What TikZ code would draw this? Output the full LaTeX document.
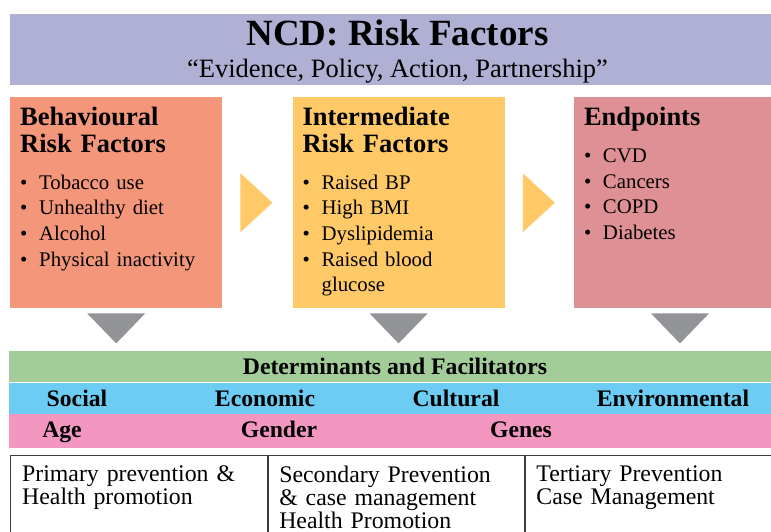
\documentclass[tikz,border=0pt]{standalone}
\usepackage{fontspec}
\setmainfont{Liberation Serif}
\usepackage{xcolor}
\usetikzlibrary{positioning}
\definecolor{bannerbg}{RGB}{176,176,212}
\definecolor{behavbg}{RGB}{244,150,122}
\definecolor{interbg}{RGB}{254,201,102}
\definecolor{endbg}{RGB}{223,144,148}
\definecolor{arrowgrey}{RGB}{146,148,151}
\definecolor{detgreen}{RGB}{162,205,152}
\definecolor{detblue}{RGB}{109,204,243}
\definecolor{detpink}{RGB}{243,151,192}
\definecolor{tableline}{RGB}{60,60,60}
\newcommand{\bitem}[1]{\makebox[19pt][l]{\textbullet}#1}

\begin{document}
\begin{tikzpicture}[x=1pt, y=-1pt,
    panel/.style={rectangle, anchor=north west, inner sep=0pt, minimum width=212pt, minimum height=211pt},
    heading/.style={anchor=north west, inner sep=0pt, align=left, text width=200pt, font=\fontsize{26.5}{26.7}\selectfont\bfseries},
    bullets/.style={anchor=north west, inner sep=0pt, align=left, text width=195pt, font=\fontsize{20.8}{25.6}\selectfont},
    band/.style={rectangle, anchor=north west, inner sep=0pt, minimum width=776pt},
    bandtext/.style={anchor=base, inner sep=0pt, font=\fontsize{23.7}{24}\selectfont\bfseries},
    cell/.style={rectangle, draw=tableline, line width=1.1pt, anchor=north west, inner sep=0pt, minimum height=90pt},
    celltext/.style={anchor=north west, inner sep=0pt, align=left, text width=240pt, font=\fontsize{23.8}{23.2}\selectfont},
    chevron/.style={fill=interbg},
    pointer/.style={fill=arrowgrey}
]
\useasboundingbox (0,0) rectangle (771,531);
\clip (0,0) rectangle (771,531);

% title banner
\node[rectangle, fill=bannerbg, anchor=north west, inner sep=0pt, minimum width=775pt, minimum height=71pt] (banner) at (10,14) {};
\node[anchor=base, inner sep=0pt, font=\fontsize{37}{37}\selectfont\bfseries] (title) at (397.5,45) {NCD: Risk Factors};
\node[anchor=base, inner sep=0pt, font=\fontsize{26.5}{26.5}\selectfont] (motto) at (397.5,77) {“Evidence, Policy, Action, Partnership”};

% three stages
\node[panel, fill=behavbg] (behav) at (10,97) {};
\node[panel, fill=interbg, right=70pt of behav] (inter) {};
\node[panel, fill=endbg, right=69pt of inter] (endp) {};

\node[heading, below right=10pt and 10pt of behav.north west] (behavhead) {Behavioural\\Risk Factors};
\node[bullets, below right=77.7pt and 10pt of behav.north west] (behavlist) {\bitem{Tobacco use}\\\bitem{Unhealthy diet}\\\bitem{Alcohol}\\\bitem{Physical inactivity}};

\node[heading, below right=10pt and 10pt of inter.north west] (interhead) {Intermediate\\Risk Factors};
\node[bullets, below right=77.7pt and 10pt of inter.north west] (interlist) {\bitem{Raised BP}\\\bitem{High BMI}\\\bitem{Dyslipidemia}\\\bitem{Raised blood}\\\hspace*{19pt}glucose};

\node[heading, below right=10pt and 10pt of endp.north west] (endphead) {Endpoints};
\node[bullets, below right=51.5pt and 10pt of endp.north west] (endplist) {\bitem{CVD}\\\bitem{Cancers}\\\bitem{COPD}\\\bitem{Diabetes}};

% chevrons between stages
\fill[chevron] ([xshift=18pt, yshift=29.5pt]behav.east) -- ([xshift=50pt]behav.east) -- ([xshift=18pt, yshift=-29.5pt]behav.east) -- cycle;
\fill[chevron] ([xshift=18pt, yshift=29.5pt]inter.east) -- ([xshift=50pt]inter.east) -- ([xshift=18pt, yshift=-29.5pt]inter.east) -- cycle;

% pointers down to determinants
\fill[pointer] ([xshift=-29pt, yshift=-5pt]behav.south) -- ([xshift=29pt, yshift=-5pt]behav.south) -- ([yshift=-35pt]behav.south) -- cycle;
\fill[pointer] ([xshift=-29pt, yshift=-5pt]inter.south) -- ([xshift=29pt, yshift=-5pt]inter.south) -- ([yshift=-35pt]inter.south) -- cycle;
\fill[pointer] ([xshift=-29pt, yshift=-5pt]endp.south) -- ([xshift=29pt, yshift=-5pt]endp.south) -- ([yshift=-35pt]endp.south) -- cycle;

% determinants bands
\node[band, fill=detgreen, minimum height=31pt] (green) at (9,351) {};
\node[band, fill=detblue, minimum height=31pt, below=0pt of green] (blue) {};
\node[band, fill=detpink, minimum height=34pt, below=0pt of blue] (pink) {};

\node[bandtext] (determ) at (395,374.5) {Determinants and Facilitators};
\node[bandtext] (social) at (77,406) {Social};
\node[bandtext] (economic) at (265,406) {Economic};
\node[bandtext] (cultural) at (456,406) {Cultural};
\node[bandtext] (environ) at (673,406) {Environmental};
\node[bandtext] (age) at (62,437.5) {Age};
\node[bandtext] (gender) at (279,437.5) {Gender};
\node[bandtext] (genes) at (521,437.5) {Genes};

% prevention table
\node[cell, minimum width=257pt] (primary) at (10,455) {};
\node[cell, minimum width=256pt, right=0pt of primary] (secondary) {};
\node[cell, minimum width=256pt, right=0pt of secondary] (tertiary) {};

\node[celltext, below right=10.5pt and 12pt of primary.north west] (primtext) {Primary prevention \&\\Health promotion};
\node[celltext, below right=10.5pt and 11pt of secondary.north west] (sectext) {Secondary Prevention\\\& case management\\Health Promotion};
\node[celltext, below right=10.5pt and 11pt of tertiary.north west] (terttext) {Tertiary Prevention\\Case Management};

\end{tikzpicture}
\end{document}
